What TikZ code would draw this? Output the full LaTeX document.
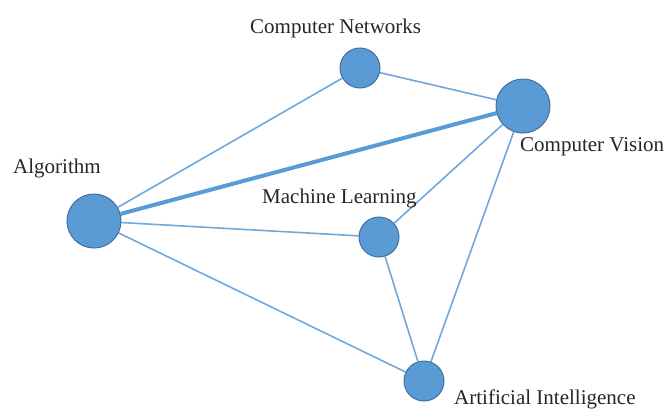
\documentclass[tikz,border=0pt]{standalone}
\usepackage{fontspec}
\setmainfont{Liberation Serif}
\usetikzlibrary{backgrounds}
\definecolor{nodefill}{HTML}{5B9BD5}
\definecolor{nodeline}{HTML}{41719C}
\definecolor{edgecol}{HTML}{6FA8DC}
\definecolor{labelcol}{HTML}{262626}
\begin{document}
\begin{tikzpicture}[x=1pt,y=-1pt,
  vertex/.style={circle,fill=nodefill,draw=nodeline,line width=1pt,inner sep=0pt,minimum size=#1},
  vertex/.default=40pt,
  lbl/.style={anchor=base west,inner sep=0pt,text=labelcol,font=\fontsize{21}{24}\selectfont},
  link/.style={draw=edgecol,line width=1.6pt},
  strong/.style={draw=nodefill,line width=4pt}]
\useasboundingbox (0,0) rectangle (667,410);
% vertices
\node[vertex=54pt] (alg) at (94,221) {};
\node[vertex] (cn) at (360,68) {};
\node[vertex=54pt] (cv) at (523,106) {};
\node[vertex] (ml) at (379,237) {};
\node[vertex] (ai) at (424,381) {};
% labels
\node[lbl] (tcn) at (250,33) {Computer Networks};
\node[lbl] (talg) at (13,173) {Algorithm};
\node[lbl] (tml) at (262,203) {Machine Learning};
\node[lbl] (tcv) at (520,151) {Computer Vision};
\node[lbl] (tai) at (454,404) {Artificial Intelligence};
% connections
\begin{scope}[on background layer]
\draw[link] (alg) -- (cn);
\draw[strong] (alg) -- (cv);
\draw[link] (alg) -- (ml);
\draw[link] (alg) -- (ai);
\draw[link] (cn) -- (cv);
\draw[link] (cv) -- (ml);
\draw[link] (cv) -- (ai);
\draw[link] (ml) -- (ai);
\end{scope}
\end{tikzpicture}
\end{document}
